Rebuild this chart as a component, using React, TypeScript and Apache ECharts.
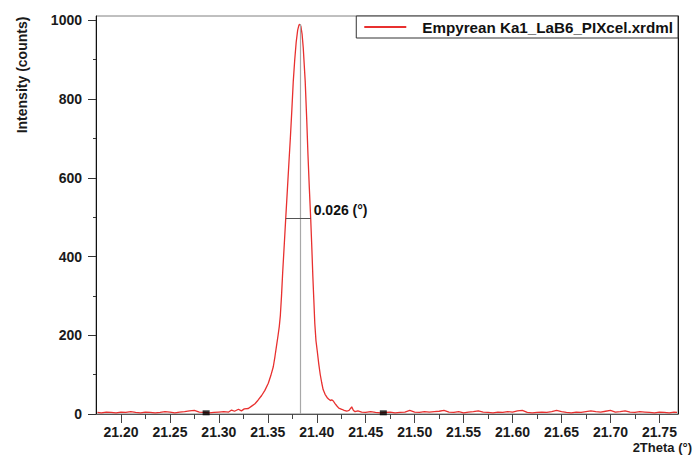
import React, { useEffect, useRef } from "react";
import * as echarts from "echarts";

const seriesName = "Empyrean Ka1_LaB6_PIXcel.xrdml";

const twoTheta = [
  21.176, 21.18, 21.185, 21.19, 21.195, 21.2, 21.205, 21.21, 21.215, 21.22, 21.225, 21.23, 21.235, 21.24, 21.245,
  21.25, 21.255, 21.26, 21.265, 21.27, 21.275, 21.28, 21.285, 21.29, 21.295, 21.3, 21.305, 21.31, 21.313, 21.316,
  21.32, 21.323, 21.326, 21.3301, 21.3335, 21.3369, 21.34, 21.3437, 21.347, 21.3505, 21.353, 21.3556, 21.3573,
  21.359, 21.3605, 21.3617, 21.3628, 21.364, 21.3652, 21.3668, 21.3683, 21.37, 21.3716, 21.373, 21.3745, 21.376,
  21.3775, 21.379, 21.3805, 21.3818, 21.3827, 21.3838, 21.385, 21.3862, 21.3882, 21.3898, 21.391, 21.3924, 21.3938,
  21.395, 21.396, 21.397, 21.398, 21.3992, 21.4005, 21.402, 21.4035, 21.405, 21.4065, 21.4085, 21.4105, 21.412,
  21.414, 21.4153, 21.4169, 21.4185, 21.4204, 21.4225, 21.4255, 21.428, 21.4306, 21.433, 21.4357, 21.4375, 21.4391,
  21.442, 21.4459, 21.45, 21.455, 21.46, 21.465, 21.47, 21.475, 21.48, 21.485, 21.49, 21.495, 21.5, 21.505, 21.51,
  21.515, 21.52, 21.525, 21.53, 21.535, 21.54, 21.545, 21.55, 21.555, 21.56, 21.565, 21.57, 21.575, 21.58, 21.585,
  21.59, 21.595, 21.6, 21.605, 21.61, 21.615, 21.62, 21.625, 21.63, 21.635, 21.64, 21.645, 21.65, 21.655, 21.66,
  21.665, 21.67, 21.675, 21.68, 21.685, 21.69, 21.695, 21.7, 21.705, 21.71, 21.715, 21.72, 21.725, 21.73, 21.735,
  21.74, 21.745, 21.75, 21.755, 21.76, 21.765, 21.768,
];

const counts = [
  4, 3, 5, 4, 3, 5, 4, 6, 4, 3, 5, 4, 3, 4, 6,
  5, 3, 5, 6, 8, 9, 5, 4, 3, 4, 5, 6, 5, 10, 7,
  12, 8, 13, 14, 20, 26, 35, 47, 60, 78, 97, 120, 146,
  175, 200, 222, 250, 300, 360, 430, 497, 570, 640, 700, 770, 845,
  900, 945, 975, 988, 990, 985, 965, 930, 845, 745, 660, 575, 497,
  420, 350, 290, 230, 186, 160, 128, 101, 80, 62, 50, 42, 38,
  34, 36, 33, 27, 21, 15, 12, 9, 7, 9, 18, 9, 6,
  8, 5, 4, 6, 4, 3, 4, 5, 3, 4, 5, 9, 5, 4, 6,
  5, 6, 7, 9, 5, 4, 6, 3, 5, 6, 8, 5, 4, 3, 5,
  4, 6, 5, 8, 9, 4, 3, 4, 5, 4, 6, 9, 6, 4, 3,
  5, 4, 6, 8, 6, 5, 7, 9, 5, 6, 8, 5, 4, 6, 5,
  4, 3, 5, 4, 3, 5, 4,
];

const xMajorTicks = [21.2, 21.25, 21.3, 21.35, 21.4, 21.45, 21.5, 21.55, 21.6, 21.65, 21.7, 21.75];
const xMinorTicks = [21.225, 21.275, 21.325, 21.375, 21.425, 21.475, 21.525, 21.575, 21.625, 21.675, 21.725];
const yMajorTicks = [0, 200, 400, 600, 800, 1000];
const yMinorTicks = [100, 300, 500, 700, 900];

const peakPosition = 21.3827;
const peakHeight = 990;
const fwhmLeft = 21.3683;
const fwhmRight = 21.3938;
const fwhmHeight = 497;
const fwhmLabel = "0.026 (°)";
const bgMarkers = [
  [21.287, 3],
  [21.468, 3],
];

const FONT = "'Liberation Sans', Arial, Helvetica, sans-serif";

export default function App() {
  const ref = useRef<HTMLDivElement>(null);
  useEffect(() => {
    if (!ref.current) return;
    const chart = echarts.init(ref.current, null, { renderer: "svg" });
    const lineData = twoTheta.map((x, i) => [x, counts[i]]);
    const labelStyle = { color: "#1a1a1a", fontFamily: FONT, fontSize: 14, fontWeight: "bold" as const };
    chart.setOption({
      animation: false,
      backgroundColor: "#ffffff",
      grid: {
        left: 96,
        right: 18,
        top: 16,
        bottom: 41,
        show: true,
        borderColor: "#808080",
        borderWidth: 1,
        backgroundColor: "transparent",
      },
      legend: {
        data: [seriesName],
        right: 18,
        top: 16,
        icon: "rect",
        itemWidth: 42,
        itemHeight: 2,
        padding: [3, 5, 3, 8],
        borderColor: "#333333",
        borderWidth: 1,
        backgroundColor: "#ffffff",
        selectedMode: false,
        textStyle: {
          color: "#111111",
          fontFamily: FONT,
          fontSize: 15.2,
          fontWeight: "bold",
          padding: [0, 0, 0, 11],
          lineHeight: 16,
        },
      },
      xAxis: [
        {
          type: "value",
          min: 21.1745,
          max: 21.769,
          axisLine: { show: true, onZero: false, lineStyle: { color: "#555555", width: 1 } },
          axisTick: { show: true, length: 9, customValues: xMajorTicks, lineStyle: { color: "#444444" } },
          axisLabel: {
            ...labelStyle,
            margin: 11,
            customValues: xMajorTicks,
            formatter: (v: number) => v.toFixed(2),
          },
          splitLine: { show: false },
        },
        {
          type: "value",
          min: 21.1745,
          max: 21.769,
          position: "bottom",
          axisLine: { show: false },
          axisTick: { show: true, length: 5, customValues: xMinorTicks, lineStyle: { color: "#444444" } },
          axisLabel: { show: false },
          splitLine: { show: false },
        },
      ],
      yAxis: [
        {
          type: "value",
          min: 0,
          max: 1011,
          position: "left",
          axisLine: { show: true, lineStyle: { color: "#111111", width: 1 } },
          axisTick: { show: true, length: 8, customValues: yMajorTicks, lineStyle: { color: "#333333" } },
          axisLabel: {
            ...labelStyle,
            margin: 14,
            customValues: yMajorTicks,
            formatter: (v: number) => String(Math.round(v)),
          },
          splitLine: { show: false },
        },
        {
          type: "value",
          min: 0,
          max: 1011,
          position: "left",
          axisLine: { show: false },
          axisTick: { show: true, length: 3, customValues: yMinorTicks, lineStyle: { color: "#333333" } },
          axisLabel: { show: false },
          splitLine: { show: false },
        },
        {
          type: "value",
          min: 0,
          max: 1011,
          position: "right",
          axisLine: { show: true, lineStyle: { color: "#111111", width: 1 } },
          axisTick: { show: false },
          axisLabel: { show: false },
          splitLine: { show: false },
        },
      ],
      graphic: [
        {
          type: "text",
          x: 22,
          y: 75,
          rotation: Math.PI / 2,
          style: {
            text: "Intensity (counts)",
            fill: "#1a1a1a",
            font: `bold 14px ${FONT}`,
            align: "center",
            verticalAlign: "middle",
          },
        },
        {
          type: "text",
          x: 692,
          y: 447,
          style: {
            text: "2Theta (°)",
            fill: "#1a1a1a",
            font: `bold 13px ${FONT}`,
            align: "right",
            verticalAlign: "middle",
          },
        },
      ],
      series: [
        {
          name: seriesName,
          type: "line",
          data: lineData,
          showSymbol: false,
          symbol: "none",
          color: "#e8302f",
          lineStyle: { color: "#e8302f", width: 1.3 },
          z: 3,
          markLine: {
            silent: true,
            symbol: "none",
            label: { show: false },
            animation: false,
            data: [
              [
                { coord: [peakPosition, 0], lineStyle: { color: "#a8a8a8", width: 1.2, type: "solid" } },
                { coord: [peakPosition, peakHeight] },
              ],
              [
                { coord: [fwhmLeft, fwhmHeight], lineStyle: { color: "#555555", width: 1, type: "solid" } },
                { coord: [fwhmRight, fwhmHeight] },
              ],
            ],
          },
          markPoint: {
            silent: true,
            animation: false,
            data: [
              {
                coord: [fwhmRight, fwhmHeight + 21],
                symbol: "circle",
                symbolSize: 0,
                label: {
                  show: true,
                  position: "right",
                  distance: 3,
                  formatter: fwhmLabel,
                  color: "#111111",
                  fontFamily: FONT,
                  fontSize: 14,
                  fontWeight: "bold",
                },
              },
            ],
          },
        },
        {
          type: "scatter",
          data: bgMarkers,
          symbol: "rect",
          symbolSize: [7, 5],
          itemStyle: { color: "#000000" },
          silent: true,
          z: 4,
        },
      ],
    });
    return () => chart.dispose();
  }, []);
  return <div ref={ref} style={{ position: "fixed", left: 0, top: 0, width: 696, height: 455 }} />;
}
